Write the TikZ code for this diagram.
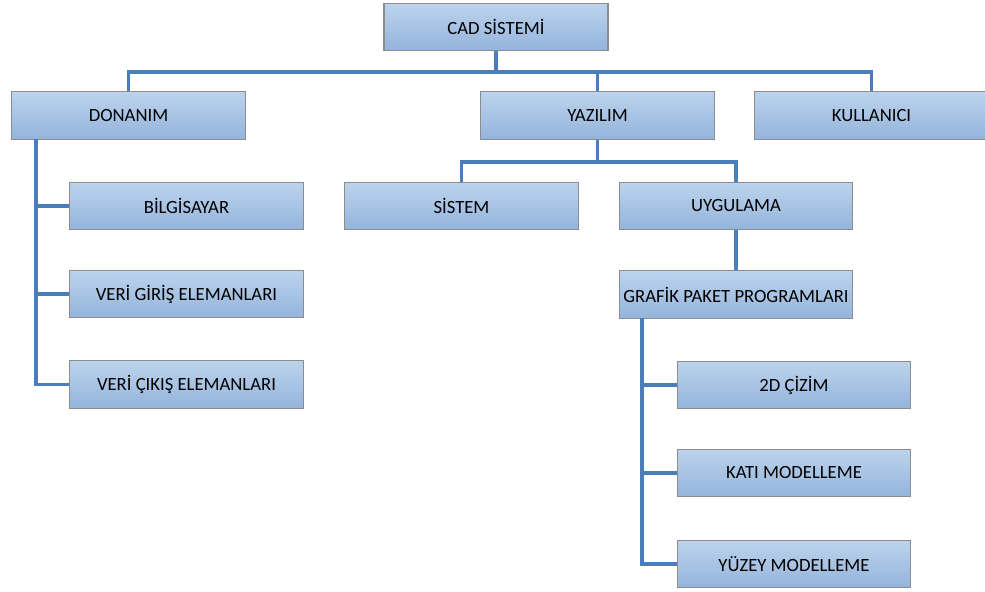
\documentclass[tikz,border=0pt]{standalone}
\usepackage{fontspec}
\setmainfont{Carlito}
\usetikzlibrary{positioning}
\definecolor{Line}{HTML}{4A7EBB}
\definecolor{Edge}{HTML}{8C8C8C}
\definecolor{BoxTop}{HTML}{BCD3EC}
\definecolor{BoxBot}{HTML}{94B4DC}

\begin{document}
\begin{tikzpicture}[
 x=0.75pt,y=-0.75pt,
 box/.style={draw=Edge,line width=0.9pt,top color=BoxTop,bottom color=BoxBot,minimum width=175pt,minimum height=35.5pt,inner sep=0pt,font=\fontsize{14}{16}\selectfont},
 ln/.style={draw=Line,line width=2.5pt}
]
\useasboundingbox (0,0) rectangle (985,592);
% top level
\node[box,minimum width=168pt] (cad) at (496,27) {CAD SİSTEMİ};
\node[box] (donanim) at (128.5,115.5) {DONANIM};
\node[box] (yazilim) at (597.5,115.5) {YAZILIM};
\node[box] (kullanici) at (871.5,115.5) {KULLANICI};
% donanim
\node[box] (bilgisayar) at (186.5,206) {BİLGİSAYAR};
\node[box] (giris) at (186.5,294) {VERİ GİRİŞ ELEMANLARI};
\node[box] (cikis) at (186.5,384.5) {VERİ ÇIKIŞ ELEMANLARI};
% yazilim
\node[box] (sistem) at (461.5,206) {SİSTEM};
\node[box] (uygulama) at (736,206) {UYGULAMA};
\node[box] (grafik) at (736,294.5) {GRAFİK PAKET PROGRAMLARI};
\node[box] (cizim) at (794,385) {2D ÇİZİM};
\node[box] (kati) at (794,473) {KATI MODELLEME};
\node[box] (yuzey) at (794,564) {YÜZEY MODELLEME};
% connectors
\coordinate (bus1) at (496,72);
\coordinate (bus2) at (597.5,162);
\coordinate (dspine) at (36,139);
\coordinate (gspine) at (642,318);
\draw[ln] (cad.south) -- (bus1);
\draw[ln] (donanim.north) -- (donanim.north |- bus1) -- (kullanici.north |- bus1) -- (kullanici.north);
\draw[ln] (yazilim.north) -- (yazilim.north |- bus1);
\draw[ln] (yazilim.south) -- (bus2);
\draw[ln] (sistem.north) -- (sistem.north |- bus2) -- (uygulama.north |- bus2) -- (uygulama.north);
\draw[ln] (uygulama.south) -- (grafik.north);
\draw[ln] (dspine) |- (cikis.west);
\draw[ln] (dspine |- bilgisayar.west) -- (bilgisayar.west);
\draw[ln] (dspine |- giris.west) -- (giris.west);
\draw[ln] (gspine) |- (yuzey.west);
\draw[ln] (gspine |- cizim.west) -- (cizim.west);
\draw[ln] (gspine |- kati.west) -- (kati.west);
\end{tikzpicture}
\end{document}
